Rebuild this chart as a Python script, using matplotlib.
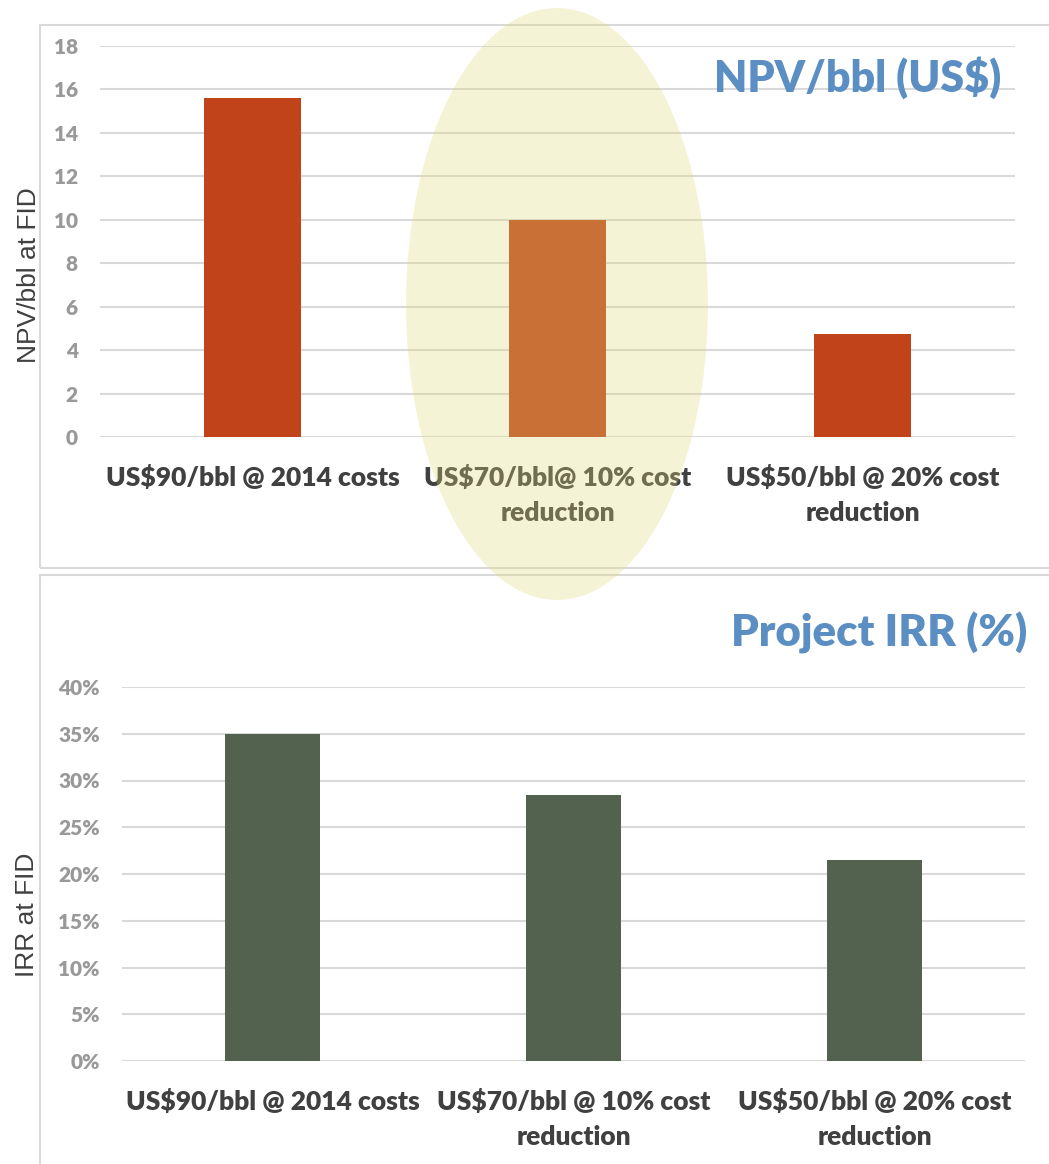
import matplotlib
matplotlib.use('Agg')
import matplotlib.pyplot as plt
from matplotlib.patches import Ellipse, Rectangle

plt.rcParams['font.family'] = ['Lato', 'DejaVu Sans']

# data
npv_labels = ['US$90/bbl @ 2014 costs', 'US$70/bbl@ 10% cost\nreduction', 'US$50/bbl @ 20% cost\nreduction']
npv_values = [15.6, 10.0, 4.75]
irr_labels = ['US$90/bbl @ 2014 costs', 'US$70/bbl @ 10% cost\nreduction', 'US$50/bbl @ 20% cost\nreduction']
irr_values = [35, 28.5, 21.5]
npv_ticks = [0, 2, 4, 6, 8, 10, 12, 14, 16, 18]
irr_ticks = [0, 5, 10, 15, 20, 25, 30, 35, 40]

W, H = 1049, 1164
fig = plt.figure(figsize=(W / 100, H / 100), dpi=100)

def px_axes(x0, y_top, x1, y_bot):
    return fig.add_axes([x0 / W, 1 - y_bot / H, (x1 - x0) / W, (y_bot - y_top) / H])

grey = '#999999'
dark = '#404040'
gridc = '#D9D9D9'

# panel frames
fig.add_artist(Rectangle((40 / W, 1 - 568 / H), 1.2, (568 - 25) / H, transform=fig.transFigure,
                         fill=False, edgecolor=gridc, lw=1.5))
fig.add_artist(Rectangle((40 / W, 1 - 1250 / H), 1.2, (1250 - 575) / H, transform=fig.transFigure,
                         fill=False, edgecolor=gridc, lw=1.5))

def style(ax, ticks, fmt):
    ax.set_xlim(-0.5, 2.5)
    ax.set_yticks(ticks)
    ax.set_yticklabels([fmt(t) for t in ticks])
    ax.tick_params(axis='both', length=0)
    ax.tick_params(axis='y', pad=16, labelsize=15, labelcolor=grey)
    ax.tick_params(axis='x', pad=20)
    for s in ax.spines.values():
        s.set_visible(False)
    ax.grid(axis='y', color=gridc, lw=1.5)
    ax.set_axisbelow(True)
    for lab in ax.get_yticklabels():
        lab.set_fontweight('heavy')
    for lab in ax.get_xticklabels():
        lab.set_fontsize(19)
        lab.set_fontweight('heavy')
        lab.set_color(dark)
        lab.set_linespacing(1.55)

# top chart
ax1 = px_axes(100, 46, 1015, 437)
ax1.bar(range(3), npv_values, width=0.315, color='#C0431A', zorder=2)
ax1.set_ylim(0, 18)
ax1.set_xticks(range(3))
ax1.set_xticklabels(npv_labels)
style(ax1, npv_ticks, lambda t: str(t))

# bottom chart
ax2 = px_axes(122, 687, 1025, 1061)
ax2.bar(range(3), irr_values, width=0.315, color='#52624E', zorder=2)
ax2.set_ylim(0, 40)
ax2.set_xticks(range(3))
ax2.set_xticklabels(irr_labels)
style(ax2, irr_ticks, lambda t: f'{t}%')

# titles and axis labels
blue = '#5B8FC3'
fig.text(1001 / W, 1 - 92 / H, 'NPV/bbl (US$)', ha='right', va='baseline',
         fontsize=31, fontweight='heavy', color=blue)
fig.text(1027 / W, 1 - 646 / H, 'Project IRR (%)', ha='right', va='baseline',
         fontsize=31.5, fontweight='heavy', color=blue)
fig.text(29 / W, 1 - 275 / H, 'NPV/bbl at FID', rotation=90, ha='center', va='center',
         fontsize=19, color=dark, family=['Liberation Sans', 'DejaVu Sans'])
fig.text(27 / W, 1 - 915 / H, 'IRR at FID', rotation=90, ha='center', va='center',
         fontsize=19, color=dark, family=['Liberation Sans', 'DejaVu Sans'])

# highlight ellipse over the middle scenario
fig.add_artist(Ellipse((557 / W, 1 - 304 / H), 302 / W, 592 / H, transform=fig.transFigure,
                       facecolor='#E1DA7A', edgecolor='none', alpha=0.3, zorder=5))

fig.savefig('out.png', dpi=100)
